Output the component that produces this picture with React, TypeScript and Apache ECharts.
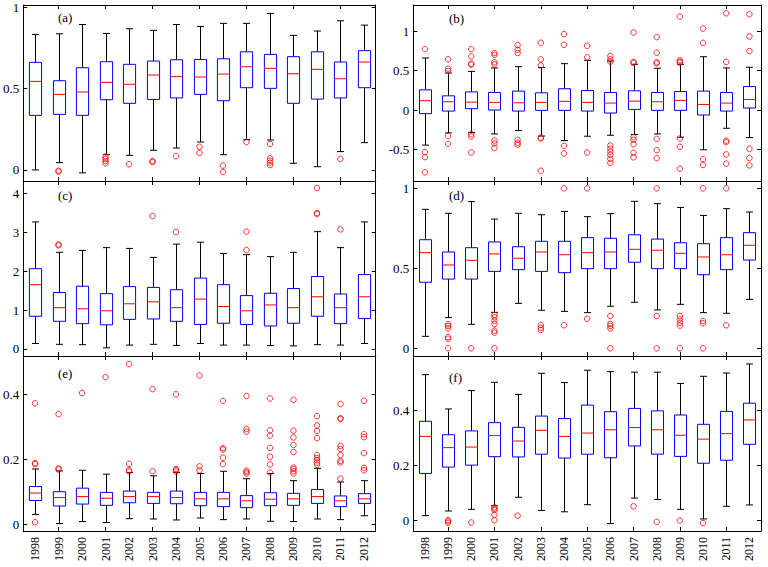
import React, { useEffect, useRef } from "react";
import * as echarts from "echarts";

const years = ["1998","1999","2000","2001","2002","2003","2004","2005","2006","2007","2008","2009","2010","2011","2012"];

// [whisker low, q1, median, q3, whisker high]
const boxA = [
  [0.0, 0.336, 0.545, 0.662, 0.834],
  [0.045, 0.342, 0.465, 0.549, 0.838],
  [-0.018, 0.336, 0.48, 0.629, 0.895],
  [0.094, 0.432, 0.539, 0.666, 0.84],
  [0.09, 0.41, 0.527, 0.65, 0.869],
  [0.121, 0.434, 0.584, 0.67, 0.859],
  [0.135, 0.443, 0.574, 0.678, 0.895],
  [0.172, 0.465, 0.572, 0.68, 0.883],
  [0.094, 0.426, 0.59, 0.684, 0.902],
  [0.186, 0.506, 0.635, 0.727, 0.902],
  [0.184, 0.502, 0.625, 0.711, 0.963],
  [0.041, 0.41, 0.592, 0.697, 0.828],
  [0.02, 0.436, 0.619, 0.727, 0.855],
  [0.113, 0.443, 0.561, 0.664, 0.918],
  [0.168, 0.506, 0.664, 0.734, 0.891],
];
const outA = [
  [], [-0.005, -0.01], [], [0.082, 0.068, 0.055, 0.041], [0.035], [0.055, 0.049], [0.084],
  [0.143, 0.105], [0.027, -0.012], [0.172], [0.16, 0.072, 0.057, 0.045, 0.03], [], [], [0.068], [],
];

const boxB = [
  [-0.445, -0.046, 0.118, 0.256, 0.66],
  [-0.29, -0.013, 0.105, 0.18, 0.47],
  [-0.286, 0.017, 0.1, 0.23, 0.49],
  [-0.303, 0.0, 0.097, 0.223, 0.534],
  [-0.26, -0.013, 0.092, 0.24, 0.55],
  [-0.33, -0.004, 0.097, 0.218, 0.54],
  [-0.387, -0.004, 0.11, 0.27, 0.588],
  [-0.332, -0.013, 0.097, 0.248, 0.63],
  [-0.32, -0.038, 0.088, 0.223, 0.622],
  [-0.31, 0.008, 0.113, 0.244, 0.58],
  [-0.303, -0.004, 0.105, 0.223, 0.53],
  [-0.345, -0.004, 0.122, 0.235, 0.58],
  [-0.504, -0.063, 0.071, 0.24, 0.676],
  [-0.231, -0.013, 0.088, 0.223, 0.534],
  [-0.349, 0.025, 0.134, 0.298, 0.542],
];
const outB = [
  [0.773, -0.534, -0.597, -0.79],
  [0.643, 0.525, 0.496, -0.328, -0.428],
  [0.773, 0.68, 0.588, 0.575, -0.307, -0.336, -0.538],
  [0.723, 0.7, 0.605, 0.58, -0.387, -0.424, -0.48],
  [0.823, 0.765, 0.723, -0.378, -0.416, -0.44],
  [0.853, 0.643, 0.565, -0.35, -0.36, -0.77],
  [0.962, 0.828, -0.454, -0.55],
  [0.815, 0.668, -0.538],
  [0.685, 0.643, 0.613, -0.45, -0.49, -0.53, -0.57, -0.62, -0.67],
  [0.983, 0.61, 0.597, -0.345, -0.378, -0.433, -0.542, -0.6],
  [0.924, 0.727, 0.605, 0.592, -0.366, -0.508, -0.609],
  [1.185, 0.63, 0.613, 0.6, -0.361, -0.466, -0.744],
  [1.034, 0.853, -0.622, -0.697],
  [1.227, 0.61, -0.39, -0.408, -0.563, -0.68],
  [1.214, 0.933, 0.748, -0.492, -0.609, -0.702],
];

const boxC = [
  [0.14, 0.84, 1.65, 2.06, 3.26],
  [0.12, 0.71, 1.06, 1.45, 2.48],
  [0.11, 0.65, 1.03, 1.61, 2.53],
  [0.03, 0.62, 0.98, 1.42, 2.6],
  [0.1, 0.76, 1.16, 1.6, 2.58],
  [0.12, 0.77, 1.21, 1.58, 2.35],
  [0.09, 0.71, 1.06, 1.52, 2.69],
  [0.14, 0.63, 1.28, 1.82, 2.74],
  [0.1, 0.66, 1.09, 1.65, 2.45],
  [0.1, 0.63, 0.98, 1.37, 2.42],
  [0.09, 0.59, 1.13, 1.43, 2.37],
  [0.08, 0.66, 1.06, 1.55, 2.48],
  [0.11, 0.84, 1.34, 1.86, 3.01],
  [0.1, 0.65, 1.06, 1.41, 2.6],
  [0.14, 0.78, 1.34, 1.91, 3.26],
];
const outC = [
  [], [2.68, 2.66], [], [], [], [3.41], [3.0], [], [], [3.01, 2.54], [], [], [4.13, 3.49, 3.46], [3.07], [],
];

const boxD = [
  [0.075, 0.413, 0.598, 0.679, 0.869],
  [0.192, 0.433, 0.521, 0.602, 0.844],
  [0.15, 0.433, 0.55, 0.629, 0.917],
  [0.225, 0.481, 0.59, 0.665, 0.808],
  [0.281, 0.492, 0.563, 0.635, 0.844],
  [0.238, 0.481, 0.602, 0.669, 0.835],
  [0.231, 0.473, 0.585, 0.669, 0.856],
  [0.223, 0.498, 0.598, 0.692, 0.823],
  [0.263, 0.498, 0.602, 0.688, 0.842],
  [0.288, 0.538, 0.619, 0.71, 0.919],
  [0.24, 0.498, 0.613, 0.683, 0.904],
  [0.275, 0.498, 0.594, 0.66, 0.881],
  [0.223, 0.46, 0.571, 0.654, 0.831],
  [0.219, 0.492, 0.585, 0.692, 0.873],
  [0.306, 0.552, 0.644, 0.723, 0.852],
];
const outD = [
  [],
  [0.15, 0.14, 0.125, 0.07, 0.06, 0.0],
  [0.0],
  [0.208, 0.194, 0.173, 0.152, 0.11, 0.098, 0.0],
  [],
  [0.146, 0.129, 0.115],
  [1.0, 0.144],
  [1.0, 0.185],
  [0.202, 0.152, 0.14, 0.125, 0.0],
  [],
  [1.0, 0.202, 0.0],
  [0.202, 0.181, 0.16, 0.142, 0.0],
  [1.0, 0.171, 0.156, 0.0],
  [1.0, 0.144],
  [],
];

const boxE = [
  [0.03, 0.073, 0.096, 0.116, 0.17],
  [0.002, 0.056, 0.082, 0.1, 0.164],
  [0.008, 0.062, 0.085, 0.111, 0.166],
  [0.005, 0.058, 0.08, 0.098, 0.154],
  [0.017, 0.066, 0.085, 0.102, 0.159],
  [0.016, 0.064, 0.085, 0.098, 0.149],
  [0.013, 0.063, 0.082, 0.102, 0.159],
  [0.019, 0.057, 0.078, 0.098, 0.156],
  [0.014, 0.054, 0.078, 0.098, 0.163],
  [0.016, 0.051, 0.072, 0.088, 0.14],
  [0.009, 0.057, 0.077, 0.097, 0.156],
  [0.008, 0.058, 0.078, 0.095, 0.134],
  [0.016, 0.064, 0.085, 0.107, 0.172],
  [0.014, 0.054, 0.072, 0.087, 0.13],
  [0.026, 0.064, 0.078, 0.094, 0.134],
];
const outE = [
  [0.372, 0.188, 0.185, 0.006],
  [0.339, 0.172, 0.168],
  [0.404],
  [0.453],
  [0.493, 0.186, 0.166, 0.162],
  [0.416, 0.163],
  [0.4, 0.17, 0.167, 0.162],
  [0.458, 0.178, 0.166],
  [0.38, 0.234, 0.23, 0.205, 0.185],
  [0.395, 0.293, 0.285, 0.165, 0.16, 0.156],
  [0.387, 0.289, 0.273, 0.235, 0.208, 0.184, 0.159],
  [0.383, 0.288, 0.267, 0.244, 0.222, 0.174, 0.17, 0.163, 0.156],
  [0.333, 0.304, 0.287, 0.265, 0.213, 0.204, 0.197, 0.19, 0.183],
  [0.37, 0.326, 0.324, 0.241, 0.232, 0.213, 0.195, 0.19, 0.14],
  [0.38, 0.277, 0.268, 0.219, 0.173, 0.166],
];

const boxF = [
  [0.016, 0.17, 0.305, 0.36, 0.53],
  [0.033, 0.193, 0.264, 0.311, 0.405],
  [0.039, 0.2, 0.266, 0.325, 0.472],
  [0.052, 0.231, 0.308, 0.355, 0.502],
  [0.083, 0.23, 0.288, 0.338, 0.458],
  [0.035, 0.24, 0.327, 0.379, 0.535],
  [0.03, 0.226, 0.305, 0.37, 0.501],
  [0.056, 0.24, 0.317, 0.419, 0.546],
  [-0.013, 0.227, 0.329, 0.395, 0.541],
  [0.08, 0.27, 0.337, 0.407, 0.539],
  [0.075, 0.24, 0.329, 0.398, 0.539],
  [0.039, 0.232, 0.309, 0.383, 0.498],
  [0.004, 0.207, 0.295, 0.349, 0.524],
  [0.05, 0.218, 0.315, 0.396, 0.536],
  [0.055, 0.276, 0.365, 0.426, 0.569],
];
const outF = [
  [], [0.0, -0.005, -0.01], [-0.009], [0.046, 0.041, 0.036, 0.019, -0.001], [0.016],
  [], [], [], [], [0.05], [-0.007], [-0.002], [-0.011], [], [],
];

const ticksA = [0, 0.5, 1];
const ticksB = [-0.5, 0, 0.5, 1];
const ticksC = [0, 1, 2, 3, 4];
const ticksD = [0, 0.5, 1];
const ticksE = [0, 0.2, 0.4];
const ticksF = [0, 0.2, 0.4];

const FONT = "Liberation Serif";

const panels = [
  { name: "(a)", box: boxA, out: outA, min: -0.068, max: 1.015, ticks: ticksA, grid: { left: 23.3, top: 5, width: 352.4, height: 176 }, lab: [58, 11] },
  { name: "(b)", box: boxB, out: outB, min: -0.9, max: 1.332, ticks: ticksB, grid: { left: 413.3, top: 5, width: 347.7, height: 176 }, lab: [449, 12] },
  { name: "(c)", box: boxC, out: outC, min: -0.18, max: 4.31, ticks: ticksC, grid: { left: 23.3, top: 181, width: 352.4, height: 175 }, lab: [58, 189] },
  { name: "(d)", box: boxD, out: outD, min: -0.048, max: 1.046, ticks: ticksD, grid: { left: 413.3, top: 181, width: 347.7, height: 175 }, lab: [449, 189] },
  { name: "(e)", box: boxE, out: outE, min: -0.021, max: 0.518, ticks: ticksE, grid: { left: 23.3, top: 356, width: 352.4, height: 175 }, lab: [58, 367] },
  { name: "(f)", box: boxF, out: outF, min: -0.04, max: 0.598, ticks: ticksF, grid: { left: 413.3, top: 356, width: 347.7, height: 175 }, lab: [449, 371] },
];

function renderBox(params: any, api: any) {
  const i = api.value(0);
  const p = [1, 2, 3, 4, 5].map((k) => api.coord([i, api.value(k)]));
  const cx = Math.round(p[0][0]) + 0.5;
  const band = api.size([1, 0])[0];
  const half = band * 0.26;
  const cap = band * 0.15;
  const [yLow, yQ1, yMed, yQ3, yHigh] = p.map((q: number[]) => q[1]);
  const black = { stroke: "#000", lineWidth: 1, fill: null };
  return {
    type: "group",
    children: [
      { type: "line", shape: { x1: cx, y1: yLow, x2: cx, y2: yQ1 }, style: black },
      { type: "line", shape: { x1: cx, y1: yHigh, x2: cx, y2: yQ3 }, style: black },
      { type: "line", shape: { x1: cx - cap, y1: yLow, x2: cx + cap, y2: yLow }, style: black },
      { type: "line", shape: { x1: cx - cap, y1: yHigh, x2: cx + cap, y2: yHigh }, style: black },
      {
        type: "rect",
        shape: { x: cx - half, y: yQ3, width: 2 * half, height: yQ1 - yQ3 },
        style: { fill: "rgba(255,255,255,0)", stroke: "#0000ff", lineWidth: 1 },
      },
      { type: "line", shape: { x1: cx - half, y1: yMed, x2: cx + half, y2: yMed }, style: { stroke: "#ff0000", lineWidth: 1 } },
    ],
  };
}

function buildOption() {
  const grid: any[] = [];
  const xAxis: any[] = [];
  const yAxis: any[] = [];
  const series: any[] = [];
  const graphic: any[] = [];
  const lineStyle = { color: "#000", width: 1 };
  const tickInterval = (idx: number) => idx % 2 === 1;
  panels.forEach((pn, i) => {
    grid.push({ ...pn.grid, containLabel: false, show: false });
    const bottomRow = i >= 4;
    xAxis.push({
      gridIndex: i, type: "category", data: years, position: "bottom", boundaryGap: true,
      axisLine: { show: true, onZero: false, lineStyle },
      axisTick: { show: true, inside: true, length: 4, alignWithLabel: true, interval: tickInterval, lineStyle },
      axisLabel: { show: bottomRow, rotate: 90, interval: 0, fontFamily: FONT, fontSize: 12, color: "#000", margin: 6 },
      splitLine: { show: false },
    });
    xAxis.push({
      gridIndex: i, type: "category", data: years, position: "top", boundaryGap: true,
      axisLine: { show: true, onZero: false, lineStyle },
      axisTick: { show: true, inside: true, length: 4, alignWithLabel: true, interval: tickInterval, lineStyle },
      axisLabel: { show: false },
      splitLine: { show: false },
    });
    yAxis.push({
      gridIndex: i, type: "value", min: pn.min, max: pn.max, position: "left",
      axisLine: { show: true, onZero: false, lineStyle },
      axisTick: { show: true, inside: true, length: 4, customValues: pn.ticks, lineStyle },
      axisLabel: { show: true, customValues: pn.ticks, fontFamily: FONT, fontSize: 13, color: "#000", margin: 4, formatter: (v: number) => String(v) },
      splitLine: { show: false },
    });
    yAxis.push({
      gridIndex: i, type: "value", min: pn.min, max: pn.max, position: "right",
      axisLine: { show: true, onZero: false, lineStyle },
      axisTick: { show: true, inside: true, length: 4, customValues: pn.ticks, lineStyle },
      axisLabel: { show: false, customValues: pn.ticks },
      splitLine: { show: false },
    });
    series.push({
      type: "custom",
      xAxisIndex: 2 * i,
      yAxisIndex: 2 * i,
      renderItem: renderBox,
      encode: { x: 0, y: [1, 2, 3, 4, 5] },
      data: pn.box.map((b, k) => [k, ...b]),
      z: 2,
    });
    const outs: number[][] = [];
    pn.out.forEach((list, k) => list.forEach((v) => outs.push([k, v])));
    series.push({
      type: "scatter",
      xAxisIndex: 2 * i,
      yAxisIndex: 2 * i,
      symbol: "circle",
      symbolSize: 5.5,
      itemStyle: { color: "rgba(0,0,0,0)", borderColor: "#ff0000", borderWidth: 1 },
      data: outs,
      z: 3,
    });
    graphic.push({
      type: "text", left: pn.lab[0], top: pn.lab[1],
      style: { text: pn.name, fontFamily: FONT, fontSize: 13, fill: "#000" },
      z: 10,
    });
  });
  return { animation: false, backgroundColor: "#fff", textStyle: { fontFamily: FONT }, grid, xAxis, yAxis, series, graphic };
}

export default function App() {
  const ref = useRef<HTMLDivElement>(null);
  useEffect(() => {
    if (!ref.current) return;
    const chart = echarts.init(ref.current, undefined, { renderer: "svg" });
    chart.setOption(buildOption() as any);
    return () => chart.dispose();
  }, []);
  return (
    <div
      ref={ref}
      style={{ position: "absolute", left: 0, top: 0, width: 768, height: 567, background: "#fff" }}
    />
  );
}
